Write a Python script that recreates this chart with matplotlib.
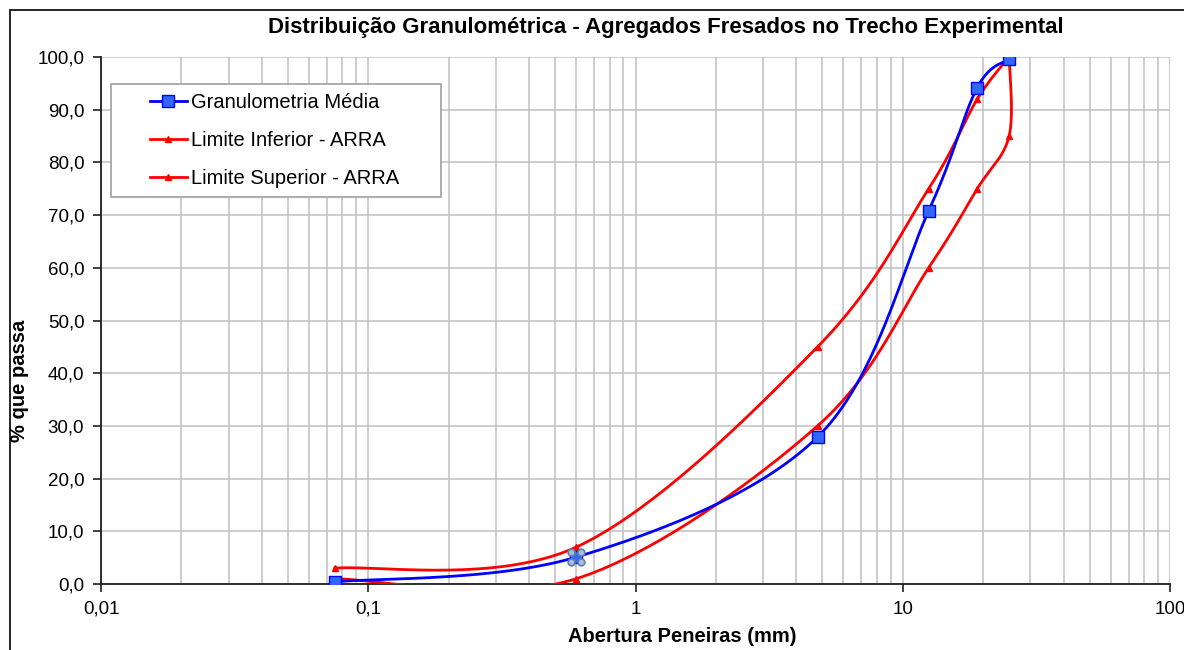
import numpy as np
import matplotlib
matplotlib.use("Agg")
import matplotlib.pyplot as plt
from matplotlib.path import Path
from matplotlib.patches import Rectangle
from matplotlib.legend_handler import HandlerLine2D
from matplotlib.ticker import FixedLocator, FuncFormatter, NullFormatter, LogLocator

plt.rcParams["font.family"] = ["Liberation Sans", "DejaVu Sans"]

# peneiras (mm) e % passante
peneiras = [0.075, 0.6, 4.8, 12.5, 19.0, 25.0]
granulometria_media = [0.4, 5.1, 27.9, 70.8, 94.2, 99.6]

peneiras_sup = [0.075, 0.6, 4.8, 12.5, 19.0, 25.0]
limite_superior = [3.0, 7.0, 45.0, 75.0, 92.0, 100.0]

peneiras_inf = [0.075, 0.6, 4.8, 12.5, 19.0, 25.0, 25.0]
limite_inferior = [1.0, 1.0, 30.0, 60.0, 75.0, 85.0, 100.0]

titulo = "Distribuição Granulométrica - Agregados Fresados no Trecho Experimental"
x_ticks = [0.01, 0.1, 1, 10, 100]
x_tick_labels = ["0,01", "0,1", "1", "10", "100"]
y_ticks = np.arange(0, 101, 10)


def suavizar(xs, ys, n=40):
    """Curva suavizada (Bezier tipo Catmull-Rom) em escala log de x."""
    u = np.log10(np.asarray(xs, float))
    v = np.asarray(ys, float)
    pts = np.column_stack([u, v])
    ext = np.vstack([pts[0], pts, pts[-1]])
    out = []
    t = np.linspace(0, 1, n)[:, None]
    for i in range(len(pts) - 1):
        p0, p3 = ext[i + 1], ext[i + 2]
        p1 = p0 + (ext[i + 2] - ext[i]) / 6.0
        p2 = p3 - (ext[i + 3] - ext[i + 1]) / 6.0
        seg = ((1 - t) ** 3) * p0 + 3 * ((1 - t) ** 2) * t * p1 \
            + 3 * (1 - t) * t ** 2 * p2 + t ** 3 * p3
        out.append(seg if i == 0 else seg[1:])
    c = np.vstack(out)
    return 10 ** c[:, 0], c[:, 1]


class LinhaCurta(HandlerLine2D):
    """Desenha a amostra da legenda só na metade direita do espaço."""
    def get_xdata(self, legend, xdescent, ydescent, width, height, fontsize):
        x0 = -xdescent + width * 0.45
        x1 = -xdescent + width
        return np.array([x0, x1]), np.array([(x0 + x1) / 2])


fig = plt.figure(figsize=(11.84, 6.5), dpi=100)
ax = fig.add_axes([101 / 1184, 66 / 650, 1069 / 1184, 527 / 650])

# moldura do gráfico
fig.patches.append(Rectangle((10 / 1184, -0.1), 1.2, 0.1 + 640 / 650,
                             transform=fig.transFigure, fill=False,
                             edgecolor="black", linewidth=1.2))

azul = "#0000FF"
vermelho = "#FF0000"

xs, ys = suavizar(peneiras_sup, limite_superior)
ax.plot(xs, ys, color=vermelho, lw=2.0, zorder=3)
ax.plot(peneiras_sup, limite_superior, ls="none", marker="^", ms=4,
        color=vermelho, zorder=4)

xi, yi = suavizar(peneiras_inf, limite_inferior)
ax.plot(xi, yi, color=vermelho, lw=2.0, zorder=3)
ax.plot(peneiras_inf, limite_inferior, ls="none", marker="^", ms=4,
        color=vermelho, zorder=4)

xm, ym = suavizar(peneiras, granulometria_media)
ax.plot(xm, ym, color=azul, lw=2.0, zorder=5)
ax.plot(peneiras, granulometria_media, ls="none", marker="s", ms=8,
        markerfacecolor="#3366FF", markeredgecolor=azul, mew=1, zorder=6)

# ponto selecionado (alças de seleção)
alcas = Path.make_compound_path(*[
    Path.circle((cx, cy), 0.35) for cx, cy in [(-0.5, -0.5), (0.5, -0.5), (-0.5, 0.5), (0.5, 0.5)]
])
ax.plot(peneiras[1], granulometria_media[1], ls="none", marker=alcas, ms=12,
        markerfacecolor="#A9C0D8", markeredgecolor="#5B7FA6", mew=1.2, zorder=7)

# legenda
h1, = ax.plot([], [], color=azul, lw=2.0, marker="s", ms=8,
              markerfacecolor="#3366FF", markeredgecolor=azul)
h2, = ax.plot([], [], color=vermelho, lw=2.0, marker="^", ms=4)
h3, = ax.plot([], [], color=vermelho, lw=2.0, marker="^", ms=4)
leg = ax.legend([h1, h2, h3],
                ["Granulometria Média", "Limite Inferior - ARRA", "Limite Superior - ARRA"],
                handler_map={h1: LinhaCurta(), h2: LinhaCurta(), h3: LinhaCurta()},
                loc="upper left",
                bbox_to_anchor=(10 / 1069, 1 - 32 / 527, 330 / 1069, 0.01),
                mode="expand",
                frameon=True, fancybox=False, edgecolor="#A0A0A0", framealpha=1,
                fontsize=14.5, handlelength=3.3, handletextpad=0.2,
                borderpad=0.45, labelspacing=0.95, borderaxespad=0.0)
leg.get_frame().set_linewidth(1.2)
leg.set_zorder(10)

ax.set_xscale("log")
ax.set_xlim(0.01, 100)
ax.set_ylim(0, 100)

ax.xaxis.set_major_locator(FixedLocator(x_ticks))
ax.xaxis.set_major_formatter(FuncFormatter(lambda v, p: x_tick_labels[x_ticks.index(v)] if v in x_ticks else ""))
ax.xaxis.set_minor_locator(LogLocator(base=10, subs=np.arange(2, 10), numticks=20))
ax.xaxis.set_minor_formatter(NullFormatter())
ax.set_yticks(y_ticks)
ax.yaxis.set_major_formatter(FuncFormatter(lambda v, p: f"{v:.1f}".replace(".", ",")))

ax.grid(True, which="both", axis="x", color="#C0C0C0", lw=1.1)
ax.grid(True, which="major", axis="y", color="#C0C0C0", lw=1.1)
ax.set_axisbelow(True)

for s in ["top", "right"]:
    ax.spines[s].set_visible(False)
for s in ["left", "bottom"]:
    ax.spines[s].set_color("#202020")
    ax.spines[s].set_linewidth(1.3)

ax.tick_params(axis="both", which="major", direction="out", length=6, width=1.2,
               color="#202020", labelsize=13.5)
ax.tick_params(axis="x", which="minor", length=0)
ax.tick_params(axis="x", which="major", pad=6)
ax.tick_params(axis="y", which="major", pad=6)

ax.set_xlabel("Abertura Peneiras (mm)", fontsize=14.5, fontweight="bold")
ax.xaxis.set_label_coords((682 - 101) / 1069, (584 - 627) / 527)
ax.set_ylabel("% que passa", fontsize=14.5, fontweight="bold")
ax.yaxis.set_label_coords((29 - 101) / 1069, (584 - 381) / 527)

fig.text(666 / 1184, 1 - 28 / 650, titulo, ha="center", va="center",
         fontsize=16, fontweight="bold")

fig.savefig("out.png", dpi=100)
